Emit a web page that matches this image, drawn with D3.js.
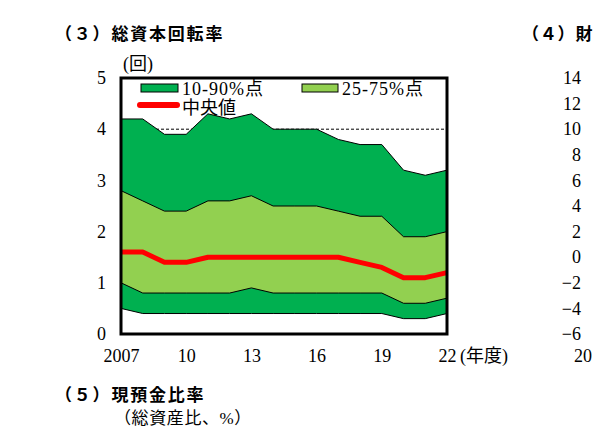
<!DOCTYPE html>
<html><head><meta charset="utf-8">
<script src="https://cdn.jsdelivr.net/npm/d3@7"></script>
<style>
html,body{margin:0;padding:0;background:#fff;overflow:hidden;}
svg{display:block;}
.serif{font-family:"Liberation Serif","Noto Sans CJK JP",serif;}
.gothic{font-family:"Noto Sans CJK JP",sans-serif;font-weight:bold;}
</style></head>
<body><svg id="c" width="593" height="429"></svg>
<script>
const years = [2007,2008,2009,2010,2011,2012,2013,2014,2015,2016,2017,2018,2019,2020,2021,2022];
const p90 = [4.2,4.2,3.9,3.9,4.3,4.2,4.3,4.0,4.0,4.0,3.8,3.7,3.7,3.2,3.1,3.2];
const p75 = [2.8,2.6,2.4,2.4,2.6,2.6,2.7,2.5,2.5,2.5,2.4,2.3,2.3,1.9,1.9,2.0];
const median = [1.6,1.6,1.4,1.4,1.5,1.5,1.5,1.5,1.5,1.5,1.5,1.4,1.3,1.1,1.1,1.2];
const p25 = [1.0,0.8,0.8,0.8,0.8,0.8,0.9,0.8,0.8,0.8,0.8,0.8,0.8,0.6,0.6,0.7];
const p10 = [0.5,0.4,0.4,0.4,0.4,0.4,0.4,0.4,0.4,0.4,0.4,0.4,0.4,0.3,0.3,0.4];
const xTickValues = [2007,2010,2013,2016,2019,2022];
const xTickLabels = ["2007","10","13","16","19","22"];
const yTicks = [0,1,2,3,4,5];
const gridValues = [1,2,3,4];
const rightTicks = [-6,-4,-2,0,2,4,6,8,10,12,14];
const legendLabels = ["10-90%点","25-75%点","中央値"];

const svg = d3.select("#c");
const L=121, R=447, T=78, B=334;
const x = d3.scaleLinear().domain([2007,2022]).range([L,R]);
const y = d3.scaleLinear().domain([0,5]).range([B,T]);
const yR = d3.scaleLinear().domain([-6,14]).range([B,T]);

// titles
svg.append("text").attr("class","gothic").attr("x",55).attr("y",40)
  .attr("font-size",17).attr("letter-spacing",1.8).text("（３）総資本回転率");
svg.append("text").attr("class","gothic").attr("x",522).attr("y",40)
  .attr("font-size",17).attr("letter-spacing",0.8).text("（４）財");
svg.append("text").attr("class","gothic").attr("x",55).attr("y",401)
  .attr("font-size",17).attr("letter-spacing",1.8).text("（５）現預金比率");
svg.append("text").attr("class","serif").attr("x",114).attr("y",424)
  .attr("font-size",17).attr("letter-spacing",0.6).text("（総資産比、%）");
svg.append("text").attr("class","serif").attr("x",123).attr("y",70)
  .attr("font-size",18).text("(回)");

// gridlines
svg.append("g").selectAll("line").data(gridValues).join("line")
  .attr("x1",L).attr("x2",R).attr("y1",d=>y(d)).attr("y2",d=>y(d))
  .attr("stroke","#000").attr("stroke-width",1).attr("stroke-dasharray","3,2");

const idx = d3.range(years.length);
const outer = d3.area().x(i=>x(years[i])).y0(i=>y(p10[i])).y1(i=>y(p90[i]));
const inner = d3.area().x(i=>x(years[i])).y0(i=>y(p25[i])).y1(i=>y(p75[i]));
svg.append("path").datum(idx).attr("d",outer).attr("fill","#00b050");
svg.append("path").datum(idx).attr("d",inner).attr("fill","#92d050");
const edge = arr => d3.line().x(i=>x(years[i])).y(i=>y(arr[i]));
[p10,p25,p75,p90].forEach(a=>{
  svg.append("path").datum(idx).attr("d",edge(a)).attr("fill","none")
    .attr("stroke","#000").attr("stroke-width",1);
});
svg.append("path").datum(idx).attr("d",edge(median)).attr("fill","none")
  .attr("stroke","#ff0000").attr("stroke-width",5).attr("stroke-linejoin","round");

// frame
svg.append("rect").attr("x",L).attr("y",T).attr("width",R-L).attr("height",B-T)
  .attr("fill","none").attr("stroke","#000").attr("stroke-width",3);

// axes
const xa = svg.append("g").attr("transform",`translate(0,${B})`)
  .call(d3.axisBottom(x).tickValues(xTickValues).tickSize(0).tickPadding(15)
    .tickFormat((d,i)=>xTickLabels[i]));
const ya = svg.append("g").attr("transform",`translate(${L},0)`)
  .call(d3.axisLeft(y).tickValues(yTicks).tickSize(0).tickPadding(15).tickFormat(d3.format("d")));
const yr = svg.append("g").attr("transform",`translate(581,0)`)
  .call(d3.axisLeft(yR).tickValues(rightTicks).tickSize(0).tickPadding(0)
    .tickFormat(d=> d<0 ? "−"+Math.abs(d) : String(d)));
[xa,ya,yr].forEach(g=>{
  g.select(".domain").remove();
  g.selectAll("text").attr("font-family","Liberation Serif, serif").attr("font-size",18).attr("fill","#000");
});
svg.append("text").attr("class","serif").attr("x",460).attr("y",362)
  .attr("font-size",18).text("(年度)");
svg.append("text").attr("class","serif").attr("x",574).attr("y",362)
  .attr("font-size",18).text("20");

// legend
const lg = svg.append("g").attr("class","serif");
lg.append("rect").attr("x",141).attr("y",84).attr("width",37).attr("height",8)
  .attr("fill","#00b050").attr("stroke","#000").attr("stroke-width",1);
lg.append("rect").attr("x",302).attr("y",84).attr("width",36).attr("height",8)
  .attr("fill","#92d050").attr("stroke","#000").attr("stroke-width",1);
lg.append("line").attr("x1",140).attr("x2",177).attr("y1",105).attr("y2",105)
  .attr("stroke","#ff0000").attr("stroke-width",6).attr("stroke-linecap","round");
lg.append("text").attr("x",182).attr("y",95).attr("font-size",18).attr("letter-spacing",1).text(legendLabels[0]);
lg.append("text").attr("x",342).attr("y",95).attr("font-size",18).attr("letter-spacing",1).text(legendLabels[1]);
lg.append("text").attr("x",182).attr("y",114).attr("font-size",18).text(legendLabels[2]);
</script></body></html>
